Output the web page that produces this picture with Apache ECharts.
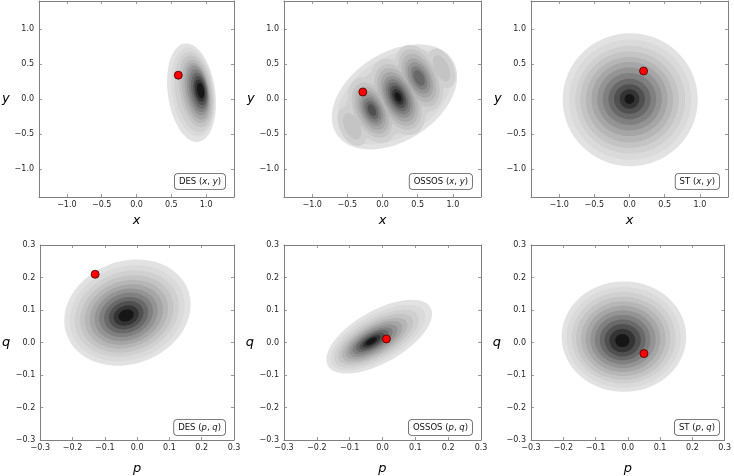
<!DOCTYPE html>
<html>
<head>
<meta charset="utf-8">
<script src="https://cdn.jsdelivr.net/npm/echarts@6/dist/echarts.min.js"></script>
<style>
  html, body { margin: 0; padding: 0; background: #fff; }
  #chart { width: 734px; height: 476px; }
</style>
</head>
<body>
<div id="chart"></div>
<script>
// survey labels, one per column (top row x/y, bottom row p/q)
var surveys = ['DES', 'OSSOS', 'ST'];
var xyTicks = [-1.0, -0.5, 0.0, 0.5, 1.0];
var pqTicks = [-0.3, -0.2, -0.1, 0.0, 0.1, 0.2, 0.3];
var xyRange = [-1.4, 1.4];
var pqRange = [-0.3, 0.3];

// red markers
var dotsXY = [[0.60, 0.34], [-0.28, 0.10], [0.20, 0.40]];
var dotsPQ = [[-0.13, 0.21], [0.012, 0.011], [0.05, -0.034]];

// density contour rings: [cx, cy, semi-axis a, semi-axis b, angle deg, level]
var desXY = [
  [0.79, 0.09, 0.34, 0.71, 8, 0],
  [0.81, 0.10, 0.30, 0.64, 8, 1],
  [0.83, 0.10, 0.27, 0.58, 9, 2],
  [0.85, 0.11, 0.23, 0.52, 10, 3],
  [0.86, 0.11, 0.20, 0.46, 10, 4],
  [0.87, 0.11, 0.17, 0.41, 10, 5],
  [0.88, 0.12, 0.15, 0.36, 10, 6],
  [0.89, 0.12, 0.13, 0.31, 10, 7],
  [0.90, 0.12, 0.11, 0.26, 10, 8],
  [0.91, 0.12, 0.09, 0.21, 10, 9],
  [0.91, 0.12, 0.07, 0.16, 10, 10],
  [0.92, 0.12, 0.05, 0.11, 10, 11]
];
var ossosXY = [
  // outer envelope
  [0.17, 0.03, 0.98, 0.63, 33, 0],
  [0.17, 0.03, 0.90, 0.56, 33, 1],
  [0.17, 0.03, 0.80, 0.48, 33, 2],
  // far-left lobe
  [-0.43, -0.39, 0.30, 0.18, 115, 2],
  [-0.43, -0.39, 0.20, 0.11, 115, 3],
  // left lobe
  [-0.15, -0.16, 0.50, 0.30, 115, 2],
  [-0.15, -0.16, 0.42, 0.25, 115, 3],
  [-0.15, -0.16, 0.36, 0.21, 115, 4],
  [-0.15, -0.16, 0.30, 0.17, 115, 5],
  [-0.15, -0.16, 0.24, 0.14, 115, 6],
  [-0.15, -0.16, 0.19, 0.11, 115, 7],
  [-0.15, -0.16, 0.14, 0.08, 115, 8],
  [-0.15, -0.16, 0.09, 0.05, 115, 9],
  // centre lobe
  [0.22, 0.03, 0.58, 0.34, 115, 2],
  [0.22, 0.03, 0.50, 0.29, 115, 3],
  [0.22, 0.03, 0.44, 0.25, 115, 4],
  [0.22, 0.03, 0.38, 0.21, 115, 5],
  [0.22, 0.03, 0.32, 0.18, 115, 6],
  [0.22, 0.03, 0.27, 0.15, 115, 7],
  [0.22, 0.03, 0.22, 0.12, 115, 8],
  [0.22, 0.03, 0.17, 0.095, 115, 9],
  [0.22, 0.03, 0.12, 0.07, 115, 10],
  [0.22, 0.03, 0.07, 0.04, 115, 11],
  // right lobe
  [0.52, 0.30, 0.50, 0.30, 115, 2],
  [0.52, 0.30, 0.44, 0.25, 115, 3],
  [0.52, 0.30, 0.37, 0.21, 115, 4],
  [0.52, 0.30, 0.30, 0.17, 115, 5],
  [0.52, 0.30, 0.24, 0.14, 115, 6],
  [0.52, 0.30, 0.18, 0.10, 115, 7],
  [0.52, 0.30, 0.12, 0.07, 115, 8],
  // far-right lobe
  [0.84, 0.44, 0.30, 0.17, 115, 2],
  [0.84, 0.44, 0.20, 0.10, 115, 3]
];
var stXY = [
  [0.01, -0.01, 0.96, 0.95, 0, 0],
  [0.01, -0.01, 0.87, 0.86, 0, 1],
  [0.01, -0.01, 0.78, 0.77, 0, 2],
  [0.00, -0.01, 0.70, 0.69, 0, 3],
  [0.00, -0.01, 0.62, 0.61, 0, 4],
  [0.00, 0.00, 0.54, 0.53, 0, 5],
  [0.00, 0.00, 0.46, 0.45, 0, 6],
  [0.00, 0.00, 0.38, 0.37, 0, 7],
  [0.00, 0.00, 0.30, 0.29, 0, 8],
  [0.00, 0.00, 0.22, 0.21, 0, 9],
  [0.00, 0.00, 0.14, 0.14, 0, 10],
  [0.00, 0.00, 0.07, 0.07, 0, 11]
];
var desPQ = [
  [-0.030, 0.092, 0.200, 0.158, 20, 0],
  [-0.031, 0.090, 0.182, 0.143, 20, 1],
  [-0.032, 0.089, 0.165, 0.128, 20, 2],
  [-0.032, 0.088, 0.148, 0.115, 20, 3],
  [-0.033, 0.087, 0.132, 0.102, 20, 4],
  [-0.033, 0.086, 0.116, 0.090, 20, 5],
  [-0.034, 0.085, 0.100, 0.078, 20, 6],
  [-0.034, 0.085, 0.085, 0.066, 20, 7],
  [-0.034, 0.084, 0.070, 0.054, 20, 8],
  [-0.034, 0.084, 0.055, 0.042, 20, 9],
  [-0.034, 0.083, 0.040, 0.030, 20, 10],
  [-0.034, 0.083, 0.024, 0.018, 20, 11]
];
var ossosPQ = [
  [-0.010, 0.018, 0.180, 0.080, 30, 0],
  [-0.014, 0.015, 0.162, 0.069, 30, 1],
  [-0.018, 0.012, 0.145, 0.060, 30, 2],
  [-0.021, 0.010, 0.128, 0.052, 30, 3],
  [-0.024, 0.008, 0.112, 0.045, 30, 4],
  [-0.026, 0.007, 0.097, 0.039, 30, 5],
  [-0.028, 0.006, 0.083, 0.033, 30, 6],
  [-0.030, 0.005, 0.069, 0.027, 30, 7],
  [-0.031, 0.005, 0.056, 0.022, 30, 8],
  [-0.032, 0.004, 0.043, 0.017, 30, 9],
  [-0.033, 0.004, 0.031, 0.012, 30, 10],
  [-0.034, 0.004, 0.019, 0.008, 30, 11]
];
var stPQ = [
  [-0.012, 0.018, 0.193, 0.170, 0, 0],
  [-0.013, 0.016, 0.177, 0.155, 0, 1],
  [-0.013, 0.015, 0.161, 0.141, 0, 2],
  [-0.014, 0.013, 0.146, 0.128, 0, 3],
  [-0.014, 0.012, 0.131, 0.115, 0, 4],
  [-0.015, 0.011, 0.116, 0.102, 0, 5],
  [-0.015, 0.010, 0.101, 0.089, 0, 6],
  [-0.016, 0.009, 0.086, 0.076, 0, 7],
  [-0.016, 0.008, 0.071, 0.063, 0, 8],
  [-0.016, 0.007, 0.056, 0.050, 0, 9],
  [-0.017, 0.006, 0.040, 0.036, 0, 10],
  [-0.017, 0.006, 0.022, 0.020, 0, 11]
];

var ringSets = [desXY, ossosXY, stXY, desPQ, ossosPQ, stPQ];

// grey contour colours, light to dark
var greys = ['#e2e2e2', '#dadada', '#d0d0d0', '#c4c4c4', '#b6b6b6', '#a6a6a6',
             '#949494', '#808080', '#696969', '#505050', '#343434', '#161616'];

var lefts = [37, 284, 531];
var tops = [1, 245];
var gw = 197;
var ghs = [196, 198];
var frameColor = '#808080';
var labelColor = '#262626';
var font = 'DejaVu Sans';

function fmt(v) {
  var s = Math.abs(v).toFixed(1);
  return (v < -1e-9 ? '\u2212' : '') + s;
}

function renderRing(params, api) {
  var cx = api.value(0), cy = api.value(1);
  var a = api.value(2), b = api.value(3);
  var t = api.value(4) * Math.PI / 180;
  var lev = api.value(5);
  var pts = [];
  for (var k = 0; k < 90; k++) {
    var u = k / 90 * 2 * Math.PI;
    var ex = a * Math.cos(u), ey = b * Math.sin(u);
    pts.push(api.coord([cx + ex * Math.cos(t) - ey * Math.sin(t),
                        cy + ex * Math.sin(t) + ey * Math.cos(t)]));
  }
  return {
    type: 'polygon',
    shape: { points: pts },
    style: { fill: greys[lev], stroke: null }
  };
}

var grid = [], xAxis = [], yAxis = [], series = [], graphic = [];

for (var i = 0; i < 6; i++) {
  var row = i < 3 ? 0 : 1, col = i % 3;
  var range = row === 0 ? xyRange : pqRange;
  var ticks = row === 0 ? xyTicks : pqTicks;
  grid.push({ left: lefts[col], top: tops[row], width: gw, height: ghs[row] });

  var tickStyle = { show: true, inside: true, length: 3, customValues: ticks,
                    lineStyle: { color: frameColor, width: 0.8 } };
  var lineStyle = { show: true, onZero: false, lineStyle: { color: frameColor, width: 1 } };
  var lab = { show: true, customValues: ticks, formatter: fmt, color: labelColor,
              fontFamily: font, fontSize: 8, showMinLabel: true, showMaxLabel: true };

  xAxis.push({
    type: 'value', gridIndex: i, min: range[0], max: range[1], position: 'bottom',
    name: row === 0 ? 'x' : 'p', nameLocation: 'middle', nameGap: row === 0 ? 17 : 22,
    nameTextStyle: { fontFamily: font, fontStyle: 'italic', fontSize: 13, color: '#000' },
    axisLine: lineStyle, axisTick: tickStyle,
    axisLabel: Object.assign({}, lab, { margin: 4 }),
    splitLine: { show: false }
  });
  xAxis.push({
    type: 'value', gridIndex: i, min: range[0], max: range[1], position: 'top',
    axisLine: lineStyle, axisTick: tickStyle, axisLabel: { show: false },
    splitLine: { show: false }
  });
  yAxis.push({
    type: 'value', gridIndex: i, min: range[0], max: range[1], position: 'left',
    name: row === 0 ? 'y' : 'q', nameLocation: 'middle', nameRotate: 0,
    nameGap: row === 0 ? 25 : 30,
    nameTextStyle: { fontFamily: font, fontStyle: 'italic', fontSize: 13, color: '#000' },
    axisLine: lineStyle, axisTick: tickStyle,
    axisLabel: Object.assign({}, lab, { margin: 5 }),
    splitLine: { show: false }
  });
  yAxis.push({
    type: 'value', gridIndex: i, min: range[0], max: range[1], position: 'right',
    axisLine: lineStyle, axisTick: tickStyle, axisLabel: { show: false },
    splitLine: { show: false }
  });

  var rings = ringSets[i].slice().sort(function (p, q) { return p[5] - q[5]; });
  series.push({
    type: 'custom', xAxisIndex: 2 * i, yAxisIndex: 2 * i,
    renderItem: renderRing, clip: true, silent: true,
    encode: { x: 0, y: 1 },
    data: rings, z: 1
  });
  series.push({
    type: 'scatter', xAxisIndex: 2 * i, yAxisIndex: 2 * i,
    data: [(row === 0 ? dotsXY : dotsPQ)[col]],
    symbolSize: 8, z: 5, silent: true,
    itemStyle: { color: '#ff0000', borderColor: '#3a0000', borderWidth: 0.8, opacity: 1 }
  });

  graphic.push({
    type: 'text',
    x: lefts[col] + gw - 9,
    y: tops[row] + ghs[row] - 8,
    z: 10,
    style: {
      text: surveys[col] + ' ({i|' + (row === 0 ? 'x' : 'p') + '}, {i|' + (row === 0 ? 'y' : 'q') + '})',
      align: 'right', verticalAlign: 'bottom',
      fontFamily: font, fontSize: 8.5, fill: '#111',
      backgroundColor: '#fff', borderColor: '#555', borderWidth: 0.8, borderRadius: 3,
      padding: [3, 4, 3, 4],
      rich: { i: { fontStyle: 'italic', fontFamily: font, fontSize: 8.5, fill: '#111' } }
    }
  });
}

var chart = echarts.init(document.getElementById('chart'), null, { renderer: 'canvas' });
chart.setOption({
  animation: false,
  backgroundColor: '#fff',
  grid: grid,
  xAxis: xAxis,
  yAxis: yAxis,
  series: series,
  graphic: graphic
});
</script>
</body>
</html>
